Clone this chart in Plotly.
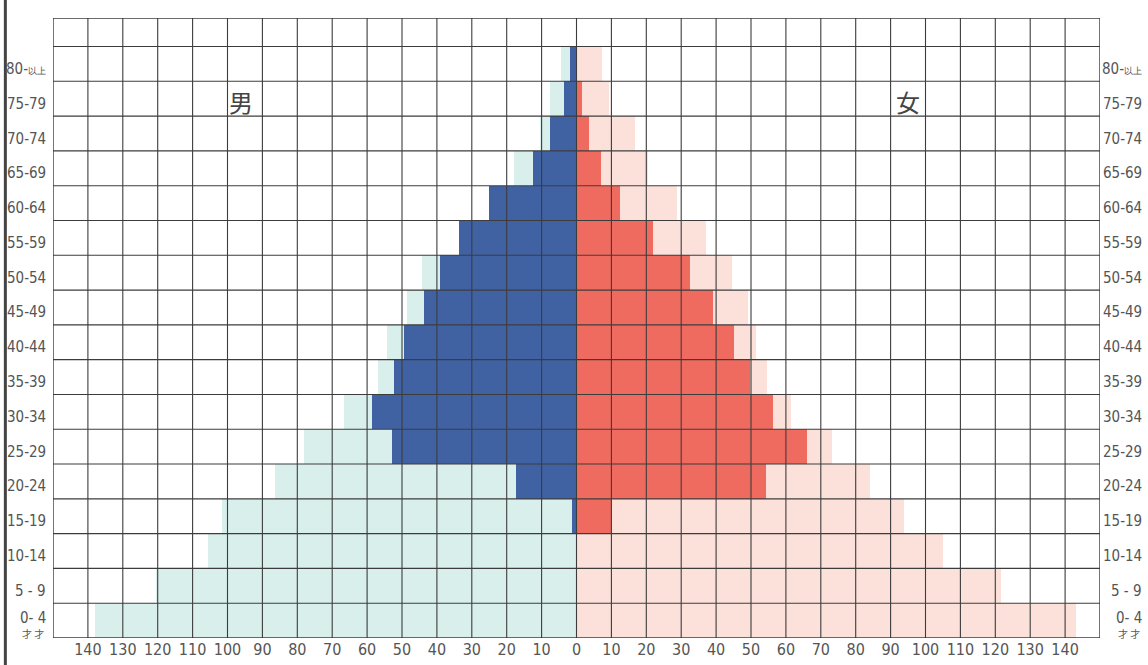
import plotly.graph_objects as go

# ---- data ----
age_groups = ["0-4", "5-9", "10-14", "15-19", "20-24", "25-29", "30-34", "35-39",
              "40-44", "45-49", "50-54", "55-59", "60-64", "65-69", "70-74", "75-79", "80-以上"]
age_labels = ["0- 4", "5 - 9", "10-14", "15-19", "20-24", "25-29", "30-34", "35-39",
              "40-44", "45-49", "50-54", "55-59", "60-64", "65-69", "70-74", "75-79",
              "80-<span style='font-size:9px'>以上</span>"]
male_total = [138.0, 120.5, 105.5, 101.5, 86.5, 78.0, 66.5, 57.0, 54.2, 48.7, 44.3,
              33.6, 25.0, 17.9, 10.5, 7.6, 4.3]
male_dark = [0.0, 0.0, 0.0, 1.4, 17.4, 53.0, 58.7, 52.3, 49.5, 43.7, 39.2,
             33.6, 25.0, 12.6, 7.6, 3.6, 1.9]
female_total = [143.0, 121.7, 104.9, 93.9, 84.2, 73.2, 61.4, 54.7, 51.4, 49.1, 44.6,
                37.1, 28.7, 20.6, 16.9, 9.4, 7.3]
female_dark = [0.0, 0.0, 0.0, 10.0, 54.2, 66.0, 56.2, 49.8, 45.0, 39.0, 32.6,
               22.0, 12.4, 7.1, 3.7, 1.7, 0.0]
x_ticks = list(range(-140, 141, 10))
x_ticklabels = [str(abs(v)) for v in x_ticks]
male_label = "男"
female_label = "女"
age_unit = "才 才"

# ---- styles ----
LIGHT_BLUE = "#d9efec"
DARK_BLUE = "#4062a3"
LIGHT_PINK = "#fbe1da"
RED = "#ef6b60"
GRID = "#3c3c3c"
TEXT = "#555555"
FONT = "Liberation Sans Narrow, DejaVu Sans Condensed, sans-serif"

yidx = list(range(len(age_groups)))
YMAX = 17.32
XR = 150

fig = go.Figure()
fig.add_trace(go.Bar(y=yidx, x=[-v for v in male_total], orientation="h",
                     marker=dict(color=LIGHT_BLUE, line=dict(width=0)), width=1, name="男 総数"))
fig.add_trace(go.Bar(y=yidx, x=female_total, orientation="h",
                     marker=dict(color=LIGHT_PINK, line=dict(width=0)), width=1, name="女 総数"))
fig.add_trace(go.Bar(y=yidx, x=[-v for v in male_dark], orientation="h",
                     marker=dict(color=DARK_BLUE, line=dict(width=0)), width=1, name="男"))
fig.add_trace(go.Bar(y=yidx, x=female_dark, orientation="h",
                     marker=dict(color=RED, line=dict(width=0)), width=1, name="女"))

shapes = []
for v in x_ticks:
    shapes.append(dict(type="line", xref="x", yref="y", x0=v, x1=v, y0=-0.5, y1=YMAX,
                       line=dict(color=GRID, width=1.1), layer="above"))
for i in range(len(age_groups)):
    yy = i + 0.5
    shapes.append(dict(type="line", xref="x", yref="y", x0=-XR, x1=XR, y0=yy, y1=yy,
                       line=dict(color=GRID, width=1.1), layer="above"))
shapes.append(dict(type="rect", xref="x", yref="y", x0=-XR, x1=XR, y0=-0.5, y1=YMAX,
                   line=dict(color=GRID, width=1.4), layer="above"))
# page edge of the scan
shapes.append(dict(type="line", xref="paper", yref="paper", x0=-0.0455, x1=-0.0455,
                   y0=-0.05, y1=1.05, line=dict(color="#444444", width=3)))

annotations = []
for i, lab in enumerate(age_labels):
    ys = -5 if i > 0 else 3
    annotations.append(dict(x=0, xref="paper", xanchor="right", xshift=-5,
                            y=i, yref="y", yshift=ys, text=lab, showarrow=False,
                            font=dict(family=FONT, size=15, color=TEXT)))
    annotations.append(dict(x=1, xref="paper", xanchor="right", xshift=44,
                            y=i, yref="y", yshift=ys, text=lab, showarrow=False,
                            font=dict(family=FONT, size=15, color=TEXT)))
annotations.append(dict(x=0, xref="paper", xanchor="right", xshift=-7, y=0, yref="y",
                        yshift=-13, text=age_unit, showarrow=False,
                        font=dict(family="Noto Sans CJK JP", size=10, color=TEXT)))
annotations.append(dict(x=1, xref="paper", xanchor="right", xshift=42, y=0, yref="y",
                        yshift=-13, text=age_unit, showarrow=False,
                        font=dict(family="Noto Sans CJK JP", size=10, color=TEXT)))
annotations.append(dict(x=-96, y=15, xref="x", yref="y", yshift=-3, text=male_label,
                        showarrow=False,
                        font=dict(family="Noto Sans CJK JP", size=24, color="#444444")))
annotations.append(dict(x=95, y=15, xref="x", yref="y", yshift=-3, text=female_label,
                        showarrow=False,
                        font=dict(family="Noto Sans CJK JP", size=24, color="#444444")))

fig.update_layout(
    template="none",
    width=1148, height=665,
    margin=dict(l=53, r=48, t=18, b=27),
    paper_bgcolor="white", plot_bgcolor="white",
    barmode="overlay", bargap=0,
    showlegend=False,
    shapes=shapes,
    annotations=annotations,
    xaxis=dict(range=[-XR, XR], tickvals=x_ticks, ticktext=x_ticklabels,
               showgrid=False, zeroline=False, showline=False, ticks="",
               tickfont=dict(family=FONT, size=16, color=TEXT), automargin=False,
               fixedrange=True),
    yaxis=dict(range=[-0.5, YMAX], showgrid=False, zeroline=False, showline=False,
               showticklabels=False, ticks="", automargin=False, fixedrange=True),
)

fig.write_html("out.html", config={"displayModeBar": False},
               post_script="document.body.style.margin='0px';")
